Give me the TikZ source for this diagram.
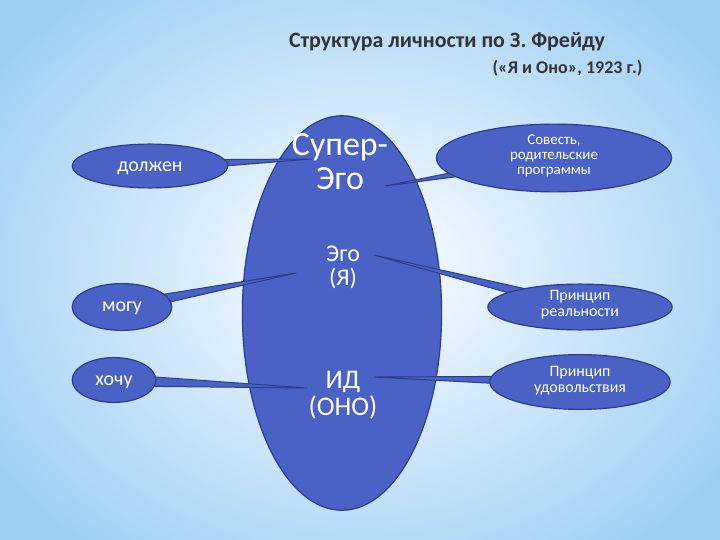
\documentclass[tikz,border=0pt]{standalone}
\usepackage{fontspec}
\setmainfont{Carlito}
\usetikzlibrary{calc,shapes.geometric}
\definecolor{ell}{HTML}{4A62C6}
\definecolor{ellb}{HTML}{2C3C8C}
\definecolor{bgout}{HTML}{9FD0F4}
\tikzset{
  blob/.style={ellipse, fill=ell, draw=ellb, line width=1.2pt, inner sep=0pt},
  wedge/.style={fill=ell, draw=ellb, line width=1pt, line join=round},
  lbl/.style={text=white, align=center, font=\fontsize{#1}{#1}\selectfont},
}
\begin{document}
\begin{tikzpicture}[x=1bp,y=-1bp]
\useasboundingbox (0,0) rectangle (720,540);
\shade[inner color=white, outer color=bgout] (-80,-80) rectangle (800,620);
% title
\node[font=\bfseries\fontsize{22}{22}\selectfont, text=black!80] (t1) at (447,42) {Структура личности по З. Фрейду};
\node[font=\bfseries\fontsize{18}{18}\selectfont, text=black!80, anchor=east] (t2) at (646,68) {(«Я и Оно», 1923 г.)};
% central
\node[blob, minimum width=200, minimum height=396] (c) at (342,313) {};
% centres and tips
\coordinate (dA) at (150,166); \coordinate (dT) at (312,159);
\coordinate (sA) at (554,158); \coordinate (sT) at (385,186);
\coordinate (mA) at (122,307); \coordinate (mT) at (296,273);
\coordinate (rA) at (580,307); \coordinate (rT) at (374,255);
\coordinate (hA) at (114,380); \coordinate (hT) at (307,388);
\coordinate (uA) at (580,382); \coordinate (uT) at (374,377);
\foreach \a in {d,s,m,r,h,u}{
  \draw[wedge] ($(\a A)+(0,-6)$) -- (\a T) -- ($(\a A)+(0,6)$) -- cycle;
}
\node[blob, minimum width=156, minimum height=44] (d) at (dA) {};
\node[blob, minimum width=236, minimum height=68] (s) at (sA) {};
\node[blob, minimum width=100, minimum height=47] (m) at (mA) {};
\node[blob, minimum width=185, minimum height=46] (r) at (rA) {};
\node[blob, minimum width=84, minimum height=45] (h) at (hA) {};
\node[blob, minimum width=181, minimum height=55] (u) at (uA) {};
% texts
\node[lbl=20] (ld) at (150,168) {должен};
\node[lbl=15] (ls) at (554,156) {Совесть,\\родительские\\программы};
\node[lbl=20] (lm) at (122,308) {могу};
\node[lbl=16] (lr) at (580,305) {Принцип\\реальности};
\node[lbl=20] (lh) at (114,382) {хочу};
\node[lbl=16] (lu) at (580,381) {Принцип\\удовольствия};
\node[lbl=34] (ls1) at (340,162) {Супер-\\Эго};
\node[lbl=24] (le) at (343,267) {Эго\\(Я)};
\node[lbl=27] (li) at (343,395) {ИД\\(ОНО)};
\end{tikzpicture}
\end{document}
